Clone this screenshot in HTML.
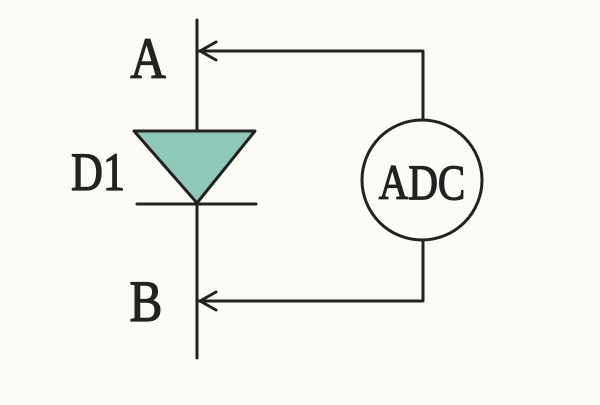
<!DOCTYPE html>
<html><head><style>html,body{margin:0;padding:0;background:#fbfaf4;}</style></head>
<body>
<svg width="600" height="400" viewBox="0 0 600 400" xmlns="http://www.w3.org/2000/svg">
<rect width="600" height="400" fill="#fbfaf4"/>
<g stroke="#222" stroke-width="3" fill="none" stroke-linecap="round" stroke-linejoin="round">
<line x1="197" y1="20" x2="197" y2="358"/>
<polygon points="134,131 255,131 197,203" fill="#8ec8b8"/>
<line x1="137" y1="204" x2="256" y2="204"/>
<polyline points="199,51 423,51 423,120"/>
<polyline points="216,42 200,51 216,60"/>
<circle cx="422" cy="180" r="60"/>
<polyline points="423,240 423,301 199,301"/>
<polyline points="216,292 200,301 216,310"/>
</g>
<g font-family="'Liberation Serif', serif" fill="#222" stroke="#222" stroke-width="1.3">
<text x="148" y="78" text-anchor="middle" font-size="58" transform="translate(148,78) scale(0.85,1) translate(-148,-78)">A</text>
<text x="98" y="190" text-anchor="middle" font-size="54" transform="translate(98,190) scale(0.82,1) translate(-98,-190)">D1</text>
<text x="146" y="321" text-anchor="middle" font-size="58" transform="translate(146,321) scale(0.85,1) translate(-146,-321)">B</text>
<text x="422" y="199" text-anchor="middle" font-size="50" transform="translate(422,199) scale(0.82,1) translate(-422,-199)">ADC</text>
</g>
</svg>
</body></html>
